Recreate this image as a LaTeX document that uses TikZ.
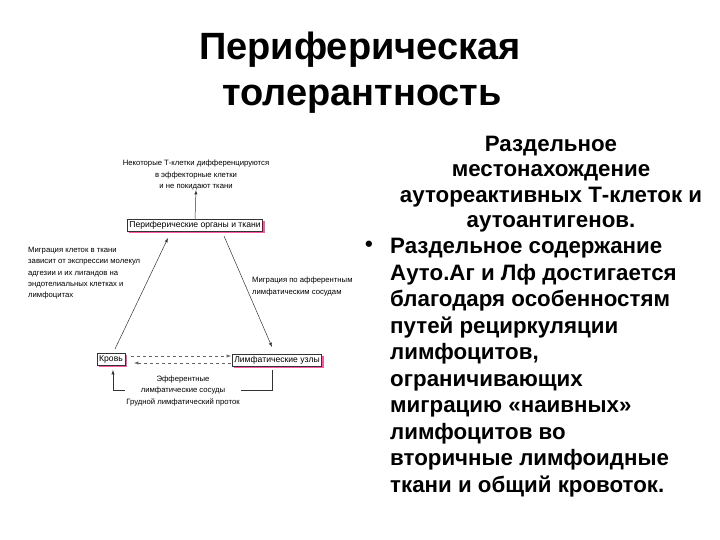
\documentclass[tikz,border=0pt]{standalone}
\usepackage{fontspec}
\setmainfont{Liberation Sans}
\usetikzlibrary{shadows}
\begin{document}
\begin{tikzpicture}[x=1pt,y=-1pt,
 box/.style={draw=black!80,line width=0.5pt,fill=white,inner sep=2pt,font=\fontsize{8.6}{9}\selectfont,
   general shadow={fill=red!55!magenta!65,shadow xshift=2pt,shadow yshift=-2pt}},
 sm/.style={font=\fontsize{7.7}{11.3}\selectfont,align=left,inner sep=0pt},
 arr/.style={-latex,line width=0.5pt,black!80},
 ttl/.style={font=\bfseries\fontsize{38}{48}\selectfont}]
\useasboundingbox (0,0) rectangle (720,540);
\node[ttl] (t1) at (360,50) {Периферическая};
\node[ttl] (t2) at (362,99) {толерантность};
\node[align=center,inner sep=0pt,font=\bfseries\fontsize{22.3}{25.5}\selectfont] (p1) at (551,184) {Раздельное\\местонахождение\\аутореактивных Т-клеток и\\аутоантигенов.};
\node[font=\bfseries\fontsize{22}{26}\selectfont] (bul) at (369,246) {•};
\node[align=left,inner sep=0pt,anchor=north west,font=\bfseries\fontsize{22.3}{26.5}\selectfont] (p2) at (390,238) {Раздельное содержание\\Ауто.Аг и Лф достигается\\благодаря особенностям\\путей рециркуляции\\лимфоцитов,\\ограничивающих\\миграцию «наивных»\\лимфоцитов во\\вторичные лимфоидные\\ткани и общий кровоток.};
\node[box] (per) at (195,225) {Периферические органы и ткани};
\node[box] (kr) at (111,359) {Кровь};
\node[box] (lu) at (277,360) {Лимфатические узлы};
\node[sm,align=center] (top) at (196,175) {Некоторые Т-клетки дифференцируются\\в эффекторные клетки\\и не покидают ткани};
\draw[arr] (per.north) -- (top.south);
\node[sm,anchor=north west] (left) at (28,247) {Миграция клеток в ткани\\зависит от экспрессии молекул\\адгезии и их лигандов на\\эндотелиальных клетках и\\лимфоцитах};
\node[sm,anchor=north west] (right) at (252,277) {Миграция по афферентным\\лимфатическим сосудам};
\coordinate (a1) at (115,349);
\coordinate (a2) at (168,238);
\coordinate (b1) at (224,236);
\coordinate (b2) at (272,347);
\draw[arr] (a1) -- (a2);
\draw[arr] (b1) -- (b2);
\coordinate (d1) at (131,356);
\coordinate (d2) at (231,356);
\coordinate (d3) at (231,363);
\coordinate (d4) at (134,363);
\draw[arr,dashed,black!60] (d1) -- (d2);
\draw[arr,dashed,black!60] (d3) -- (d4);
\coordinate (c0) at (272,370);
\coordinate (c1) at (272,390);
\coordinate (c2) at (113,390);
\coordinate (c3) at (113,370);
\draw[arr] (c0) -- (c1) -- (c2) -- (c3);
\node[sm,align=center,fill=white,inner sep=1pt] (ef) at (183,391) {Эфферентные\\лимфатические сосуды\\Грудной лимфатический проток};
\end{tikzpicture}
\end{document}
